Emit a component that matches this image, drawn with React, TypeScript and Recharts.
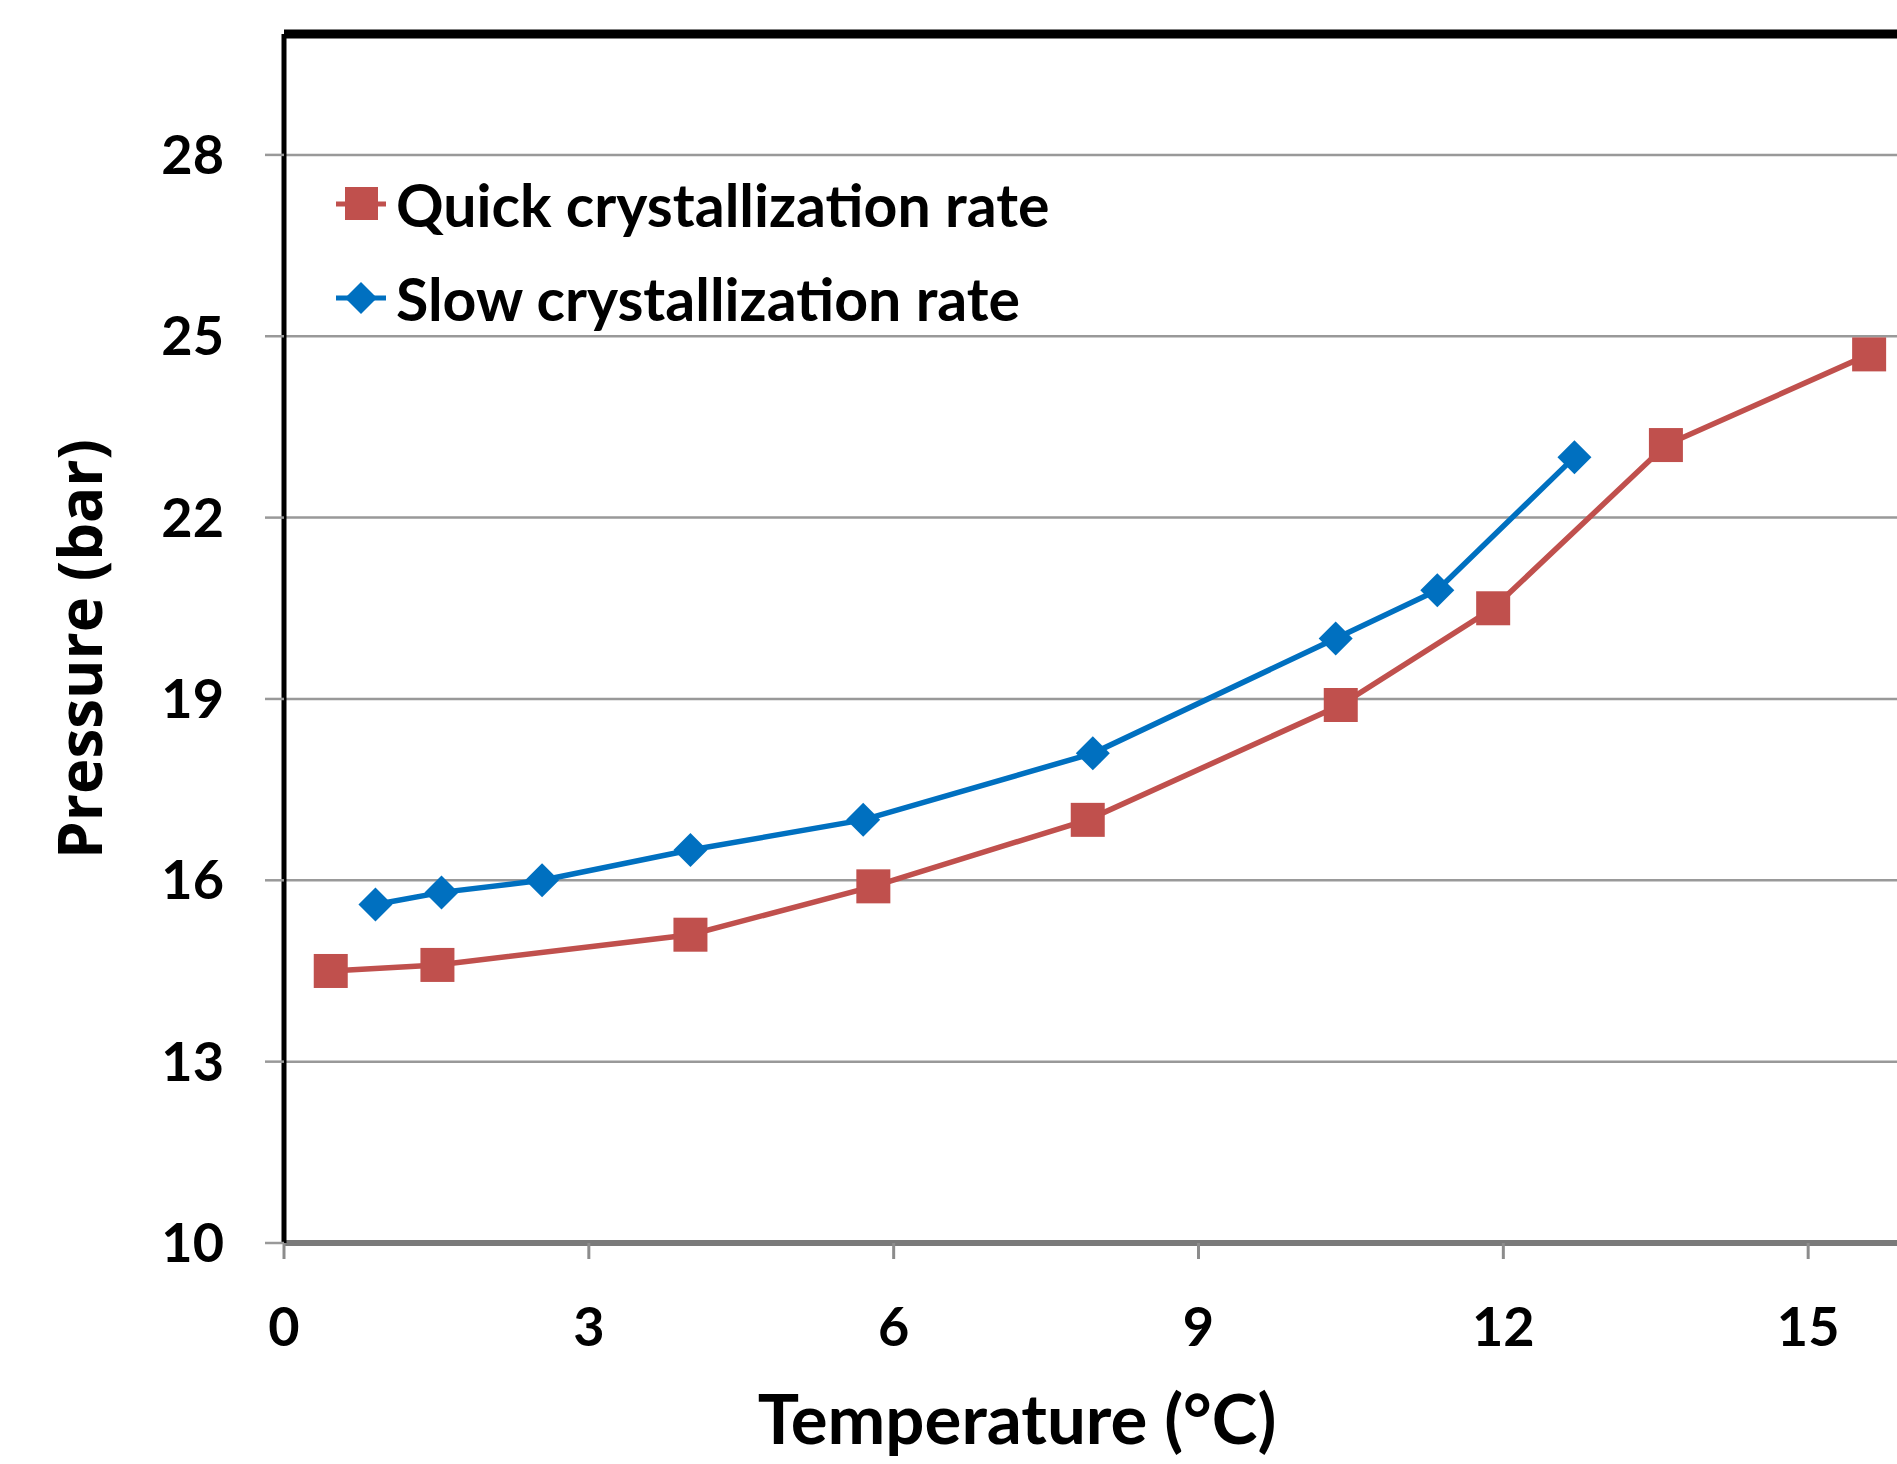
import { LineChart, Line, XAxis, YAxis, CartesianGrid, ReferenceLine, Legend } from 'recharts';

// Quick crystallization rate (red squares)
const quickTemp = [0.46, 1.51, 4.0, 5.8, 7.91, 10.4, 11.9, 13.6, 15.6];
const quickPressure = [14.5, 14.6, 15.1, 15.9, 17.0, 18.9, 20.5, 23.2, 24.7];

// Slow crystallization rate (blue diamonds)
const slowTemp = [0.9, 1.55, 2.54, 4.0, 5.7, 7.96, 10.35, 11.35, 12.7];
const slowPressure = [15.6, 15.8, 16.0, 16.5, 17.0, 18.1, 20.0, 20.8, 23.0];

const xTicks = [0, 3, 6, 9, 12, 15];
const yTicks = [10, 13, 16, 19, 22, 25, 28];

const RED = '#C0504D';
const BLUE = '#0070C0';
const LABEL_FONT = 'Lato, "Open Sans", sans-serif';

const quickData = quickTemp.map((t, i) => ({ temp: t, pressure: quickPressure[i] }));
const slowData = slowTemp.map((t, i) => ({ temp: t, pressure: slowPressure[i] }));

const SquareDot = (props: any) => {
  const { cx, cy, index } = props;
  if (cx == null || cy == null) return null;
  return <rect key={`sq-${index}`} x={cx - 17} y={cy - 17} width={34} height={34} fill={RED} />;
};

const DiamondDot = (props: any) => {
  const { cx, cy, index } = props;
  if (cx == null || cy == null) return null;
  const r = 17;
  return (
    <polygon
      key={`dm-${index}`}
      points={`${cx},${cy - r} ${cx + r},${cy} ${cx},${cy + r} ${cx - r},${cy}`}
      fill={BLUE}
    />
  );
};

const legendItems = [
  { name: 'Quick crystallization rate', color: RED, shape: 'square' },
  { name: 'Slow crystallization rate', color: BLUE, shape: 'diamond' },
];

const renderLegend = () => (
  <div style={{ fontFamily: LABEL_FONT, fontWeight: 700, fontSize: 59, color: '#000' }}>
    {legendItems.map((item) => (
      <div key={item.name} style={{ display: 'flex', alignItems: 'center', height: 94 }}>
        <svg width={52} height={40} style={{ marginRight: 8 }}>
          <line x1={0} y1={20} x2={50} y2={20} stroke={item.color} strokeWidth={5} />
          {item.shape === 'square' ? (
            <rect x={9} y={3} width={33} height={33} fill={item.color} />
          ) : (
            <polygon points="25,4 41,20 25,36 9,20" fill={item.color} />
          )}
        </svg>
        <span style={{ lineHeight: 1 }}>{item.name}</span>
      </div>
    ))}
  </div>
);

const App = () => {
  return (
    <div
      style={{
        position: 'absolute',
        left: 0,
        top: 0,
        width: 1897,
        height: 1464,
        overflow: 'hidden',
        background: '#fff',
      }}
    >
      <LineChart
        width={2140}
        height={1464}
        margin={{ top: 34, right: 27, bottom: 0, left: 0 }}
      >
        <CartesianGrid vertical={false} stroke="#999999" strokeWidth={2.5} />
        <XAxis
          type="number"
          dataKey="temp"
          domain={[0, 18]}
          ticks={xTicks}
          height={221}
          axisLine={{ stroke: '#7a7a7a', strokeWidth: 6 }}
          tickLine={{ stroke: '#8c8c8c', strokeWidth: 3 }}
          tickSize={16}
          tickMargin={49}
          tick={{ fontFamily: LABEL_FONT, fontWeight: 700, fontSize: 54, fill: '#000' }}
          label={{
            content: () => (
              <text
                x={1017}
                y={1444}
                textAnchor="middle"
                style={{ fontFamily: LABEL_FONT, fontWeight: 700, fontSize: 69, fill: '#000' }}
              >
                Temperature (°C)
              </text>
            ),
          }}
        />
        <YAxis
          type="number"
          domain={[10, 30]}
          ticks={yTicks}
          width={284}
          axisLine={{ stroke: '#000', strokeWidth: 5 }}
          tickLine={{ stroke: '#999999', strokeWidth: 2.5 }}
          tickSize={19}
          tickMargin={41}
          tick={{ fontFamily: LABEL_FONT, fontWeight: 700, fontSize: 54, fill: '#000' }}
          label={{
            content: () => (
              <text
                x={102}
                y={649}
                textAnchor="middle"
                transform="rotate(-90, 102, 649)"
                style={{ fontFamily: '"Open Sans", sans-serif', fontWeight: 700, fontSize: 60, fill: '#000' }}
              >
                Pressure (bar)
              </text>
            ),
          }}
        />
        <ReferenceLine y={30} stroke="#000" strokeWidth={9} ifOverflow="visible" />
        <Line
          data={quickData}
          dataKey="pressure"
          name="Quick crystallization rate"
          stroke={RED}
          strokeWidth={5.5}
          dot={SquareDot}
          activeDot={false}
          isAnimationActive={false}
        />
        <Line
          data={slowData}
          dataKey="pressure"
          name="Slow crystallization rate"
          stroke={BLUE}
          strokeWidth={5.5}
          dot={DiamondDot}
          activeDot={false}
          isAnimationActive={false}
        />
        <Legend
          layout="horizontal"
          verticalAlign="middle"
          align="center"
          content={renderLegend}
          wrapperStyle={{ position: 'absolute', left: 336, top: 157, width: 1000, bottom: 'auto' }}
        />
      </LineChart>
    </div>
  );
};

export default App;
